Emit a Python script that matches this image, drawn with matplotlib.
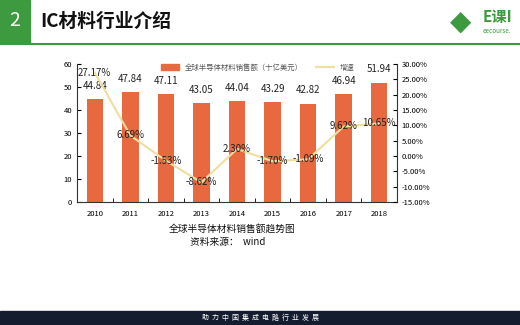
import numpy as np
import matplotlib.pyplot as plt
from matplotlib.patches import Rectangle, Patch
from matplotlib.lines import Line2D

plt.rcParams['font.family'] = ['Noto Sans CJK SC', 'DejaVu Sans']

years = ['2010', '2011', '2012', '2013', '2014', '2015', '2016', '2017', '2018']
sales = [44.84, 47.84, 47.11, 43.05, 44.04, 43.29, 42.82, 46.94, 51.94]
growth = [27.17, 6.69, -1.53, -8.62, 2.30, -1.70, -1.09, 9.62, 10.65]

bar_color = '#E8683F'
line_color = '#EEDF9E'
green = '#3E9A3E'

fig = plt.figure(figsize=(5.2, 3.25), dpi=100)

# slide header
fig.patches.append(Rectangle((0, 1 - 43/325), 30/520, 43/325, transform=fig.transFigure,
                             color=green, zorder=0))
fig.text(15/520, 1 - 21/325, '2', color='white', fontsize=14, ha='center', va='center')
fig.text(40/520, 1 - 21/325, 'IC材料行业介绍', color='#111111', fontsize=13.5,
         fontweight='bold', ha='left', va='center')
fig.add_artist(Line2D([0, 1], [1 - 44/325, 1 - 44/325], transform=fig.transFigure,
                      color=green, lw=1.5))
# logo
fig.text(461/520, 1 - 22/325, '◆', color=green, fontsize=20, ha='center', va='center',
         family=['DejaVu Sans'])
fig.text(483/520, 1 - 17/325, 'E课I', color=green, fontsize=11, fontweight='bold',
         ha='left', va='center')
fig.text(483/520, 1 - 31/325, 'eecourse.', color=green, fontsize=4.5, ha='left', va='center')

# footer
fig.patches.append(Rectangle((0, 0), 1, 14/325, transform=fig.transFigure,
                             color='#141C30', zorder=0))
fig.text(0.5, 7/325, '助  力  中  国  集  成  电  路  行  业  发  展', color='white',
         fontsize=5, ha='center', va='center')

# chart
ax = fig.add_axes([77/520, 1 - 202/325, 320/520, 138/325])
x = np.arange(len(years))
ax.bar(x, sales, width=0.46, color=bar_color, zorder=2)
for xi, v in zip(x, sales):
    ax.text(xi, v + 3.5, f'{v:.2f}', ha='center', va='bottom', fontsize=7, color='#222222')
ax.set_xlim(-0.5, len(years) - 0.5)
ax.set_ylim(0, 60)
ax.set_yticks(range(0, 61, 10))
ax.set_xticks(x)
ax.set_xticklabels(years)
ax.set_xticks(np.arange(-0.5, len(years), 1), minor=True)
ax.tick_params(axis='x', which='major', length=0, labelsize=5.5, pad=6)
ax.tick_params(axis='x', which='minor', length=3, direction='in')
ax.tick_params(axis='y', labelsize=5.5, direction='in', length=3)
for s in ['top', 'right']:
    ax.spines[s].set_visible(False)
ax.spines['left'].set_color('#333333')
ax.spines['bottom'].set_color('#333333')

ax2 = ax.twinx()
ax2.plot(x, growth, color=line_color, lw=1.5, zorder=3)
for xi, g in zip(x, growth):
    ax2.text(xi, g, f'{g:.2f}%', ha='center', va='center', fontsize=7, color='#222222')
ax2.set_ylim(-15, 30)
ax2.set_yticks(range(-15, 31, 5))
ax2.set_yticklabels([f'{t:.2f}%' for t in range(-15, 31, 5)])
ax2.tick_params(axis='y', labelsize=5.5, direction='in', length=3)
ax2.spines['top'].set_visible(False)
ax2.spines['left'].set_visible(False)
ax2.spines['bottom'].set_visible(False)
ax2.spines['right'].set_color('#333333')

handles = [Patch(color=bar_color), Line2D([], [], color=line_color, lw=1.5)]
ax2.legend(handles, ['全球半导体材料销售额（十亿美元）', '增速'], ncol=2, frameon=False,
           loc='center', bbox_to_anchor=(0.565, 0.975), fontsize=5.3, labelcolor='#555555',
           handlelength=2.4, handleheight=0.8, columnspacing=1.8)

fig.text(232/520, 1 - 229/325, '全球半导体材料销售额趋势图', fontsize=7, ha='center',
         va='center', color='#111111')
fig.text(228/520, 1 - 242/325, '资料来源：  wind', fontsize=7, ha='center', va='center',
         color='#111111')

fig.savefig('out.png', dpi=100)
